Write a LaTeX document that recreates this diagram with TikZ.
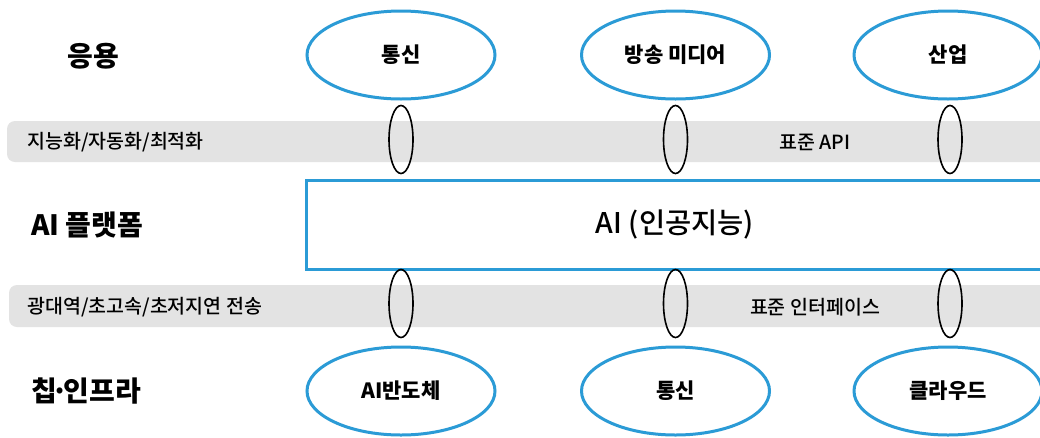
\documentclass[tikz,border=0pt]{standalone}
\usepackage{fontspec}
\setmainfont{Noto Sans CJK KR}
\newfontfamily\krmed{Noto Sans CJK KR Medium}
\usetikzlibrary{shapes.geometric}
\definecolor{bandgray}{RGB}{227,227,227}
\definecolor{skyblue}{RGB}{43,155,214}
\tikzset{
  bigellipse/.style={ellipse, draw=skyblue, line width=3pt, minimum width=188pt, minimum height=88pt, inner sep=0pt, font=\fontsize{21}{24}\selectfont\bfseries},
  ring/.style={ellipse, draw=black, line width=1.6pt, minimum width=24pt, minimum height=68pt, inner sep=0pt},
  layerlabel/.style={font=\fontsize{28}{32}\selectfont\bfseries, inner sep=0pt},
  bandtext/.style={font=\krmed\fontsize{19.5}{22}\selectfont, inner sep=0pt},
  band/.style={fill=bandgray, rounded corners=8pt},
}
\begin{document}
\begin{tikzpicture}[x=1pt,y=-1pt]
\useasboundingbox (0,0) rectangle (1040,437);
\clip (0,0) rectangle (1040,437);
\fill[white] (0,0) rectangle (1040,437);
% grey bands
\path[band] (7,121) rectangle (1070,162);
\path[band] (9,285) rectangle (1070,327);
% AI platform box
\node[draw=skyblue, line width=3pt, minimum width=750pt, minimum height=89pt, inner sep=0pt] (platform) at (681,225) {};
\node[font=\krmed\fontsize{28.5}{32}\selectfont, inner sep=0pt] (ai) at (675,224) {AI (인공지능)};
% layer labels
\node[layerlabel] (lapp) at (93,56) {응용};
\node[layerlabel, anchor=west] (lplat) at (31,225) {AI 플랫폼};
\node[layerlabel, anchor=west] (lchip) at (31,391) {칩\kern-.18em·\kern-.18em인프라};
% band texts
\node[bandtext, anchor=west] (b1) at (27,142) {지능화/자동화/최적화};
\node[bandtext] (b2) at (815,142) {표준 API};
\node[bandtext, anchor=west] (b3) at (27,307) {광대역/초고속/초저지연 전송};
\node[bandtext] (b4) at (815,307) {표준 인터페이스};
% application ellipses
\node[bigellipse] (app1) at (401,55) {통신};
\node[bigellipse] (app2) at (675.5,55) {방송 미디어};
\node[bigellipse] (app3) at (948,55) {산업};
% infra ellipses
\node[bigellipse] (inf1) at (401,391) {AI반도체};
\node[bigellipse] (inf2) at (675.5,391) {통신};
\node[bigellipse] (inf3) at (948,391) {클라우드};
% interface rings
\node[ring] (r1) at (401,139.5) {};
\node[ring] (r2) at (675.5,139.5) {};
\node[ring] (r3) at (950,139.5) {};
\node[ring] (r4) at (401,303.5) {};
\node[ring] (r5) at (675.5,303.5) {};
\node[ring] (r6) at (950,303.5) {};
\end{tikzpicture}
\end{document}
